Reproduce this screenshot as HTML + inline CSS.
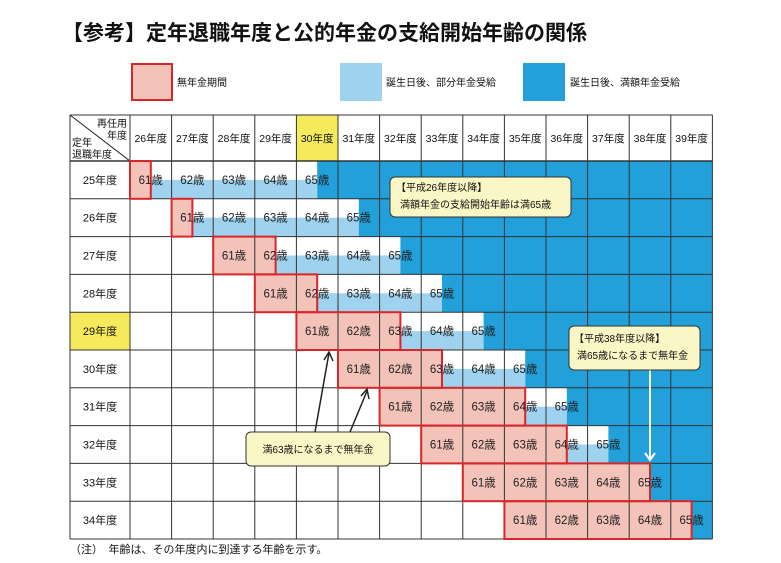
<!DOCTYPE html>
<html><head><meta charset="utf-8"><style>
html,body{margin:0;padding:0;background:#fff;}
svg{display:block;font-family:"Liberation Sans","Noto Sans CJK JP",sans-serif;}
</style></head><body>
<svg id="c" width="781" height="563" viewBox="0 0 781 563" xmlns="http://www.w3.org/2000/svg">
<text x="62" y="40" font-size="21" font-weight="bold" fill="#111">【参考】定年退職年度と公的年金の支給開始年齢の関係</text>
<g>
<rect x="132" y="64" width="40" height="36" fill="#f3c2b9" stroke="#d9262a" stroke-width="2"/>
<text x="177" y="86" font-size="10" fill="#111">無年金期間</text>
<rect x="340" y="63" width="42" height="38" fill="#9ed2ee"/>
<text x="386" y="86" font-size="10" fill="#111">誕生日後、部分年金受給</text>
<rect x="523" y="63" width="42" height="38" fill="#21a0d9"/>
<text x="570" y="86" font-size="10" fill="#111">誕生日後、満額年金受給</text>
</g>
<g id="fills"></g><g id="grid"></g><g id="outl"></g><g id="txt"></g>
<g>
<rect x="390" y="177" width="181" height="40" rx="5" fill="#fbf6c6" stroke="#333" stroke-width="1"/>
<text x="396" y="191" font-size="10" fill="#111">【平成26年度以降】</text>
<text x="400" y="208" font-size="10" fill="#111">満額年金の支給開始年齢は満65歳</text>
</g>
<g>
<line x1="650" y1="370" x2="650" y2="460" stroke="#fff" stroke-width="2"/>
<polyline points="645,453 650,460 655,453" fill="none" stroke="#fff" stroke-width="2"/>
<rect x="569" y="326" width="131" height="44" rx="5" fill="#fbf6c6" stroke="#333" stroke-width="1"/>
<text x="574" y="342" font-size="10" fill="#111">【平成38年度以降】</text>
<text x="577" y="359" font-size="10" fill="#111">満65歳になるまで無年金</text>
</g>
<g>
<line x1="315" y1="432" x2="329" y2="353" stroke="#222" stroke-width="1.5"/>
<polyline points="324,360 329,352 333,361" fill="none" stroke="#222" stroke-width="1.5"/>
<line x1="350" y1="432" x2="367" y2="391" stroke="#222" stroke-width="1.5"/>
<polyline points="361,396 367,389 369,399" fill="none" stroke="#222" stroke-width="1.5"/>
<rect x="246" y="432" width="144" height="34" rx="5" fill="#fbf6c6" stroke="#333" stroke-width="1"/>
<text x="318" y="453" font-size="10" fill="#111" text-anchor="middle">満63歳になるまで無年金</text>
</g>
<text x="70" y="553" font-size="11" fill="#111">（注）　年齢は、その年度内に到達する年齢を示す。</text>
</svg>
<script>
const rowYears=[25,26,27,28,29,30,31,32,33,34];
const colYears=[26,27,28,29,30,31,32,33,34,35,36,37,38,39];
const noPensionUntil=[61,61,62,62,63,63,64,64,65,65];
const fullAge=65;
const ages=[61,62,63,64,65];
const NS="http://www.w3.org/2000/svg";
const L=70,X0=130,CW=41.6,T=115,HH=46,RH=37.8;
const R=X0+CW*colYears.length, B=T+HH+RH*rowYears.length;
const colX=i=>X0+CW*i, rowY=r=>T+HH+RH*r;
function mk(p,tag,a){const e=document.createElementNS(NS,tag);for(const k in a)e.setAttribute(k,a[k]);document.getElementById(p).appendChild(e);return e;}
// header fills
let e=mk('fills','rect',{x:colX(colYears.indexOf(30)),y:T,width:CW,height:HH,fill:'#f5e95c'});

e=mk('fills','rect',{x:L,y:rowY(rowYears.indexOf(29)),width:X0-L,height:RH,fill:'#f5e95c'});

rowYears.forEach((yr,r)=>{
  const y=rowY(r);
  const pinkEnd=colX(r+(noPensionUntil[r]-61)+0.5);
  const fullStart=Math.min(colX(r+(fullAge-61)+0.5),R);
  const pinkStart=colX(r);
  if(fullStart>pinkEnd){e=mk('fills','rect',{x:pinkEnd,y:y+RH/2,width:fullStart-pinkEnd,height:RH/2,fill:'#9ed2ee'});
  }
  if(R>fullStart){e=mk('fills','rect',{x:fullStart,y:y,width:R-fullStart,height:RH,fill:'#21a0d9'});
  }
  e=mk('fills','rect',{x:pinkStart,y:y,width:pinkEnd-pinkStart,height:RH,fill:'#f3c2b9'});
  
  e=mk('outl','rect',{x:pinkStart,y:y,width:pinkEnd-pinkStart,height:RH,fill:'none',stroke:'#d9262a','stroke-width':2});
  
  e=mk('txt','text',{x:(L+X0)/2,y:y+RH/2+4,'font-size':11,'text-anchor':'middle',fill:'#111'});
  e.textContent=yr+'年度';
  
  ages.forEach((a,k)=>{const c=r+k;if(c>=colYears.length)return;
    e=mk('txt','text',{x:colX(c)+CW/2,y:y+RH/2+4,'font-size':11.5,'text-anchor':'middle',fill:'#222'});
    e.textContent=a+'歳';
    });
});
colYears.forEach((cy,i)=>{
  e=mk('txt','text',{x:colX(i)+CW/2,y:T+HH/2+4,'font-size':10.5,'text-anchor':'middle',fill:'#111'});
  e.textContent=cy+'年度';
  
});
// grid
for(let i=0;i<=colYears.length;i++){e=mk('grid','line',{x1:colX(i),y1:T,x2:colX(i),y2:B,stroke:'#333','stroke-width':1});}
mk('grid','line',{x1:L,y1:T,x2:L,y2:B,stroke:'#333','stroke-width':1});
mk('grid','line',{x1:L,y1:T,x2:R,y2:T,stroke:'#333','stroke-width':1});
for(let r=0;r<=rowYears.length;r++){mk('grid','line',{x1:L,y1:rowY(r),x2:R,y2:rowY(r),stroke:'#333','stroke-width':r==0?1.5:1});}
e=mk('grid','line',{x1:L,y1:T,x2:X0,y2:T+HH,stroke:'#222','stroke-width':1});

[['再任用',X0-3,T+12,'end'],['年度',X0-3,T+24,'end'],['定年',L+2,T+31,'start'],['退職年度',L+2,T+43,'start']].forEach(([t,x,y,a])=>{
  e=mk('txt','text',{x:x,y:y,'font-size':10,'text-anchor':a,fill:'#111'});e.textContent=t;
  });
</script>
</body></html>
